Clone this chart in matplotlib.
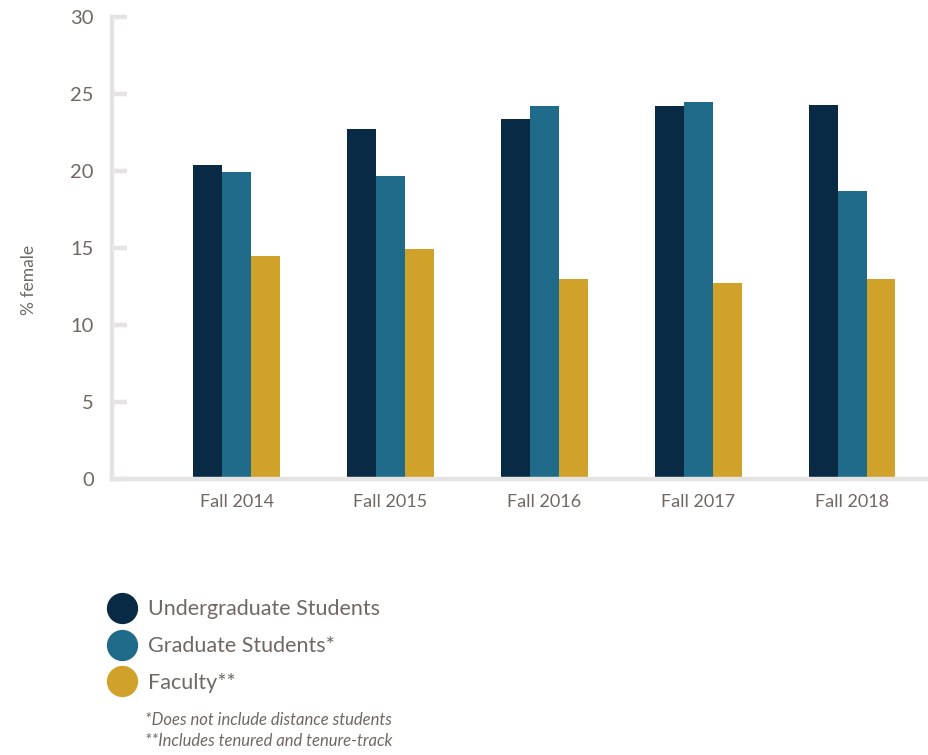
import numpy as np
import matplotlib.pyplot as plt
from matplotlib.lines import Line2D

plt.rcParams['font.family'] = ['Lato', 'DejaVu Sans']

# % female by term
terms = ['Fall 2014', 'Fall 2015', 'Fall 2016', 'Fall 2017', 'Fall 2018']
undergrad = [20.4, 22.7, 23.4, 24.2, 24.3]
graduate = [19.9, 19.7, 24.2, 24.5, 18.7]
faculty = [14.5, 14.9, 13.0, 12.7, 13.0]

series_names = ['Undergraduate Students', 'Graduate Students*', 'Faculty**']
colors = ['#082a45', '#206a8a', '#d0a229']
notes = ['*Does not include distance students', '**Includes tenured and tenure-track']

text_color = '#716863'
axis_color = '#e6e4e2'

fig = plt.figure(figsize=(9.29, 7.55), dpi=100)
ax = fig.add_axes([0.1206, 0.3656, 0.8794, 0.612])

x = np.arange(len(terms))
w = 0.188
for i, (vals, c) in enumerate(zip([undergrad, graduate, faculty], colors)):
    ax.bar(x + (i - 1) * w, vals, width=w, color=c, zorder=1)

ax.set_xlim(-0.81, 4.5)
ax.set_ylim(0, 30)
ax.set_yticks(range(0, 31, 5))
ax.set_xticks(x)
ax.set_xticklabels(terms)

for side in ['top', 'right']:
    ax.spines[side].set_visible(False)
for side in ['left', 'bottom']:
    ax.spines[side].set_color(axis_color)
    ax.spines[side].set_linewidth(3.2)
    ax.spines[side].set_zorder(3)

ax.tick_params(axis='y', direction='in', length=11, width=3.2, color=axis_color,
               labelsize=14.5, labelcolor=text_color, pad=13)
ax.tick_params(axis='x', length=0, labelsize=13, labelcolor=text_color, pad=11)

ax.set_ylabel('% female', fontsize=12.5, color=text_color)
ax.yaxis.set_label_coords(-0.092, 0.43)

handles = [Line2D([], [], linestyle='none', marker='o', markersize=21.5,
                  markerfacecolor=c, markeredgecolor=c) for c in colors]
fig.legend(handles, series_names, loc='upper left', bbox_to_anchor=(0.107, 0.2203),
           frameon=False, fontsize=15.5, labelcolor=text_color, handlelength=1.1,
           handletextpad=0.65, labelspacing=0.78, borderpad=0)

fig.text(0.156, 0.046, notes[0], fontsize=12, style='italic', color=text_color, va='center')
fig.text(0.156, 0.018, notes[1], fontsize=12, style='italic', color=text_color, va='center')

fig.savefig('out.png', dpi=100)
